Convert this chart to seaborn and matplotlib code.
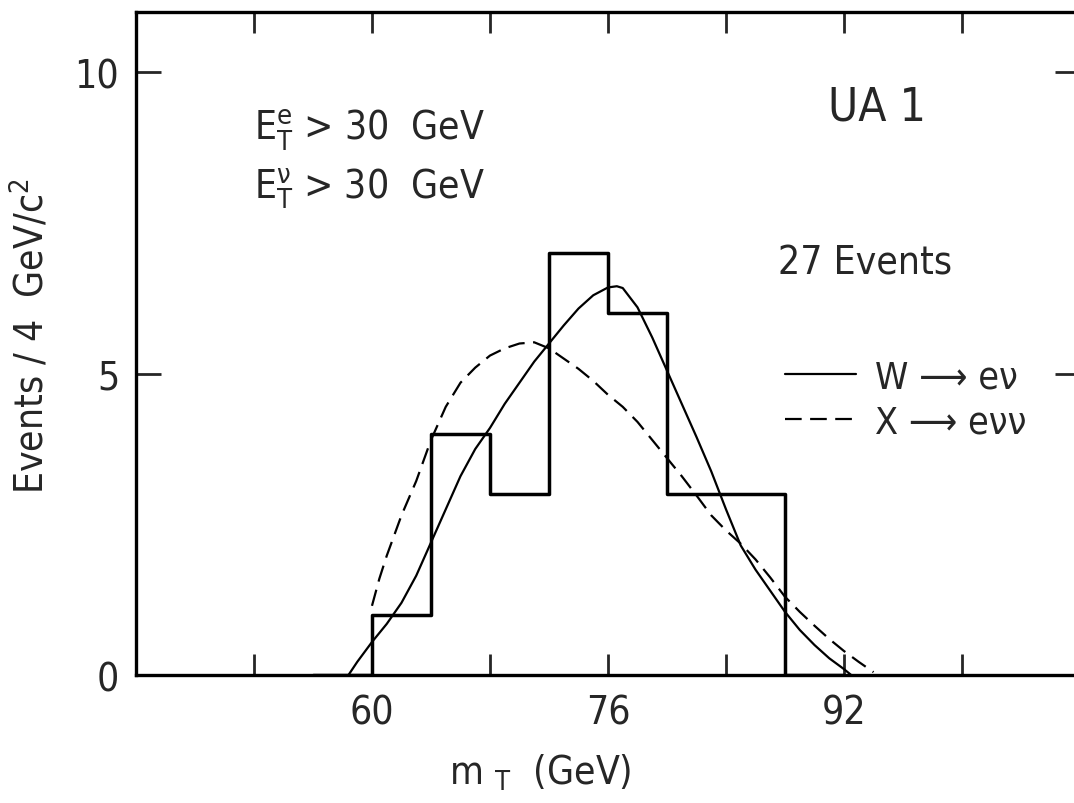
import matplotlib
matplotlib.use("Agg")
import matplotlib.pyplot as plt
import seaborn as sns

# histogram of transverse mass, 4 GeV bins (empty bins at both ends)
bin_edges = [56, 60, 64, 68, 72, 76, 80, 84, 88, 92]
counts = [0, 1, 4, 3, 7, 6, 3, 3, 0]

# W -> e nu expectation (solid)
w_mass = [58.4, 59, 60, 61, 62, 63, 64, 65, 66, 67, 68, 69, 70, 71, 72, 73, 74, 75, 76,
          76.6, 77, 78, 79, 80, 81, 82, 83, 84, 85, 86, 87, 88, 89, 90, 91, 92, 92.5]
w_curve = [0.0, 0.22, 0.55, 0.85, 1.2, 1.65, 2.2, 2.75, 3.3, 3.75, 4.1, 4.5, 4.85, 5.2, 5.5,
           5.8, 6.08, 6.3, 6.43, 6.45, 6.42, 6.1, 5.6, 5.05, 4.5, 3.95, 3.38, 2.75, 2.15,
           1.75, 1.4, 1.05, 0.75, 0.5, 0.28, 0.1, 0.0]

# X -> e nu nu expectation (dashed), starts at the 60 GeV threshold
x_mass = [60, 60.5, 61, 62, 63, 64, 65, 66, 67, 68, 69, 70, 71, 72, 73, 74, 75, 76,
          77, 78, 79, 80, 81, 82, 83, 84, 85, 86, 87, 88, 89, 90, 91, 92, 93, 94]
x_curve = [1.15, 1.6, 1.98, 2.65, 3.22, 3.9, 4.45, 4.85, 5.1, 5.3, 5.42, 5.5, 5.52, 5.42,
           5.25, 5.08, 4.88, 4.65, 4.45, 4.2, 3.9, 3.6, 3.3, 2.98, 2.65, 2.4, 2.18, 1.92,
           1.62, 1.3, 1.05, 0.82, 0.6, 0.4, 0.22, 0.05]

x_ticks = [44, 52, 60, 68, 76, 84, 92, 100, 108]
x_labelled = [60, 76, 92]
y_ticks = [0, 5, 10]

sns.set_theme(style="ticks")
plt.rcParams["font.family"] = ["DejaVu Sans"]
plt.rcParams["font.stretch"] = "condensed"
plt.rcParams["mathtext.fontset"] = "custom"
plt.rcParams["mathtext.rm"] = "DejaVu Sans"
plt.rcParams["mathtext.it"] = "DejaVu Sans"

fig = plt.figure(figsize=(10.74, 8.04), dpi=100)
ax = fig.add_axes([0.1266, 0.159, 0.879, 0.825])

centers = [(a + b) / 2 for a, b in zip(bin_edges[:-1], bin_edges[1:])]
sns.histplot(x=centers, weights=counts, bins=bin_edges, element="step", fill=False,
             color="black", linewidth=2.5, ax=ax)

sns.lineplot(x=w_mass, y=w_curve, color="black", linewidth=1.6, sort=False,
             estimator=None, label="W ⟶ eν", ax=ax)
sns.lineplot(x=x_mass, y=x_curve, color="black", linewidth=1.6, sort=False,
             estimator=None, label="X ⟶ eνν", ax=ax)
ax.lines[-1].set_dashes((7.5, 3.8))

ax.set_xlim(44, 108)
ax.set_ylim(0, 11)
ax.set_xticks(x_ticks)
ax.set_xticklabels([str(t) if t in x_labelled else "" for t in x_ticks])
ax.set_yticks(y_ticks)
ax.tick_params(axis="x", direction="in", length=15, width=2, top=True, labelsize=28, pad=13)
ax.tick_params(axis="y", direction="in", length=18, width=2, right=True, labelsize=28, pad=12)
for s in ax.spines.values():
    s.set_linewidth(2.4)
    s.set_color("black")

ax.set_xlabel(r"m $_\mathrm{T}$  (GeV)", fontsize=28)
ax.set_ylabel(r"Events / 4  GeV/c$^2$", fontsize=28)
ax.xaxis.set_label_coords(0.428, -0.116)
ax.yaxis.set_label_coords(-0.09, 0.513)

ax.text(52.0, 9.05, r"$\mathrm{E}_\mathrm{T}^\mathrm{e}$ > 30  GeV", va="center", fontsize=28)
ax.text(52.0, 8.09, r"$\mathrm{E}_\mathrm{T}^\mathrm{ν}$ > 30  GeV", va="center", fontsize=28)
ax.text(94.2, 9.42, "UA 1", ha="center", va="center", fontsize=33)
ax.text(87.5, 6.84, "27 Events", va="center", fontsize=28)

ax.legend(loc="center left", bbox_to_anchor=(0.687, 0.415), frameon=False, fontsize=27,
          borderpad=0, borderaxespad=0, handlelength=1.9, handletextpad=0.5,
          labelspacing=0.25)

fig.savefig("out.png", dpi=100)
